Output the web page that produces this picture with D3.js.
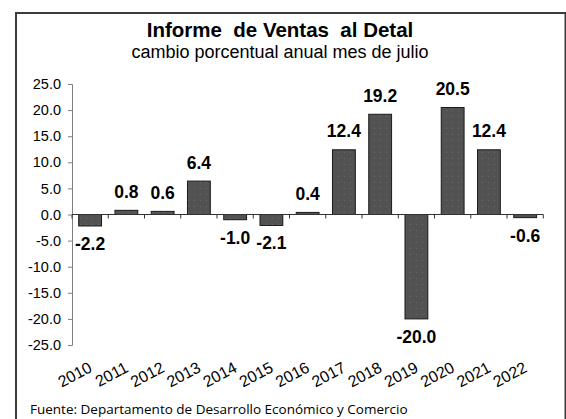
<!DOCTYPE html>
<html>
<head>
<meta charset="utf-8">
<script src="https://cdn.jsdelivr.net/npm/d3@7"></script>
<style>
  body { margin: 0; background: #fff; }
  svg { display: block; }
</style>
</head>
<body>
<div id="chart"></div>
<script>
// datos: cambio porcentual anual, mes de julio
const years = ["2010", "2011", "2012", "2013", "2014", "2015", "2016", "2017", "2018", "2019", "2020", "2021", "2022"];
const values = [-2.2, 0.8, 0.6, 6.4, -1.0, -2.1, 0.4, 12.4, 19.2, -20.0, 20.5, 12.4, -0.6];
const yTicks = [25, 20, 15, 10, 5, 0, -5, -10, -15, -20, -25];

const width = 566, height = 419;

// guion normal en vez del signo menos unicode
const fmt = function(d) { return d3.format(".1f")(d).replace("\u2212", "-"); };

const svg = d3.select("#chart").append("svg")
    .attr("width", width)
    .attr("height", height);

// patron de puntos suaves en las barras
const pattern = svg.append("defs").append("pattern")
    .attr("id", "dots")
    .attr("width", 6)
    .attr("height", 6)
    .attr("patternUnits", "userSpaceOnUse");
pattern.append("rect").attr("width", 6).attr("height", 6).attr("fill", "#525252");
pattern.append("rect").attr("x", 2).attr("y", 2).attr("width", 1).attr("height", 1).attr("fill", "#6a6a6a");

// marco
svg.append("rect")
    .attr("x", 16)
    .attr("y", 13)
    .attr("width", 549.5)
    .attr("height", 430)
    .attr("fill", "none")
    .attr("stroke", "#3c3c3c")
    .attr("stroke-width", 2);

svg.append("text")
    .attr("x", 280)
    .attr("y", 36.5)
    .attr("text-anchor", "middle")
    .attr("font-family", "Liberation Sans, Arial, sans-serif")
    .attr("font-weight", "bold")
    .attr("font-size", 20.5)
    .attr("xml:space", "preserve")
    .text("Informe  de Ventas  al Detal");

svg.append("text")
    .attr("x", 280)
    .attr("y", 57.5)
    .attr("text-anchor", "middle")
    .attr("font-family", "Liberation Sans, Arial, sans-serif")
    .attr("font-size", 18)
    .text("cambio porcentual anual mes de julio");

const x = d3.scaleBand()
    .domain(years)
    .range([72, 543.3])
    .paddingInner(0.37)
    .paddingOuter(0.185);

const y = d3.scaleLinear()
    .domain([-25, 25])
    .range([345, 84]);

// eje y
const yAxis = svg.append("g")
    .attr("transform", "translate(72,0)")
    .call(d3.axisLeft(y).tickValues(yTicks).tickFormat(fmt).tickSize(4).tickPadding(7));
yAxis.select(".domain").attr("stroke", "#808080");
yAxis.selectAll(".tick line").attr("stroke", "#808080");
yAxis.selectAll("text")
    .attr("font-family", "Liberation Sans, Arial, sans-serif")
    .attr("font-size", 14.5)
    .attr("fill", "#000");

// barras
svg.append("g")
    .selectAll("rect")
    .data(values)
    .enter().append("rect")
    .attr("x", function(d, i) { return x(years[i]); })
    .attr("y", function(d) { return y(Math.max(0, d)); })
    .attr("width", x.bandwidth())
    .attr("height", function(d) { return Math.abs(y(d) - y(0)); })
    .attr("fill", "url(#dots)")
    .attr("stroke", "#1a1a1a")
    .attr("stroke-width", 1);

// eje x en el cero, marcas entre categorias
const step = x.step();
const xAxis = svg.append("g").attr("class", "x-axis");
xAxis.append("line")
    .attr("x1", 72)
    .attr("x2", 543.3)
    .attr("y1", y(0))
    .attr("y2", y(0))
    .attr("stroke", "#333");
xAxis.selectAll(".tk")
    .data(d3.range(years.length + 1))
    .enter().append("line")
    .attr("class", "tk")
    .attr("x1", function(i) { return 72 + i * step; })
    .attr("x2", function(i) { return 72 + i * step; })
    .attr("y1", y(0))
    .attr("y2", y(0) + 4)
    .attr("stroke", "#333");

// etiquetas de años, giradas
svg.append("g")
    .selectAll("text")
    .data(years)
    .enter().append("text")
    .attr("transform", function(d) {
        return "translate(" + (x(d) + x.bandwidth() / 2 + 3) + ",371) rotate(-28)";
    })
    .attr("text-anchor", "end")
    .attr("font-family", "Liberation Sans, Arial, sans-serif")
    .attr("font-size", 16)
    .text(function(d) { return d; });

// etiquetas de valores
svg.append("g")
    .selectAll("text")
    .data(values)
    .enter().append("text")
    .attr("x", function(d, i) { return x(years[i]) + x.bandwidth() / 2; })
    .attr("y", function(d) { return d >= 0 ? y(d) - 12.5 : y(d) + 24; })
    .attr("text-anchor", "middle")
    .attr("font-family", "Liberation Sans, Arial, sans-serif")
    .attr("font-weight", "bold")
    .attr("font-size", 17.5)
    .text(fmt);

svg.append("text")
    .attr("x", 30)
    .attr("y", 414)
    .attr("font-family", "Open Sans, sans-serif")
    .attr("font-size", 13.5)
    .text("Fuente: Departamento de Desarrollo Económico y Comercio");
</script>
</body>
</html>
